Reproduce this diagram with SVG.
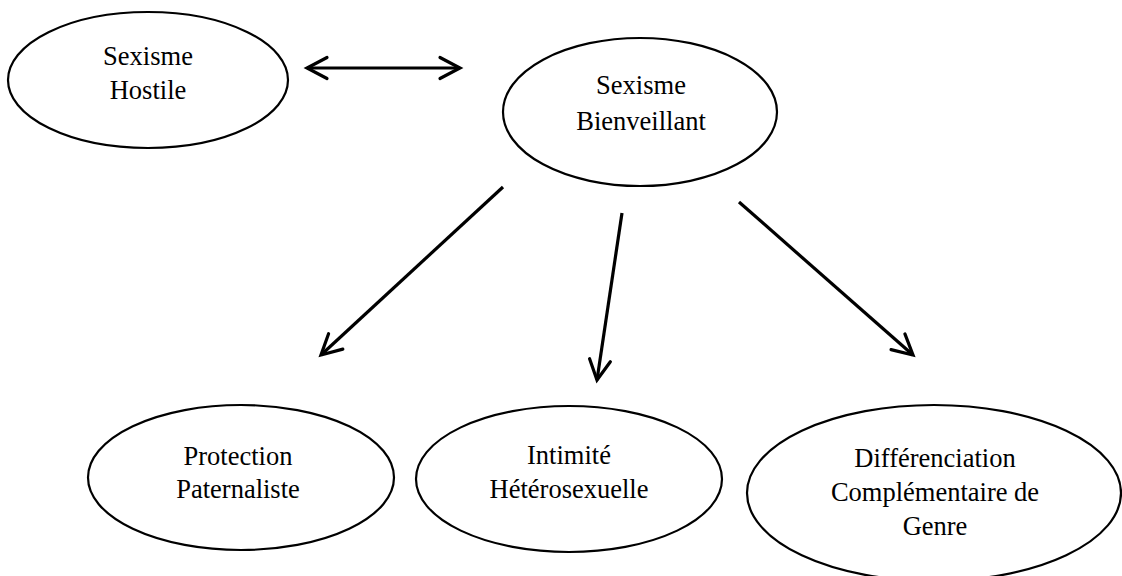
<svg xmlns="http://www.w3.org/2000/svg" width="1122" height="576" viewBox="0 0 1122 576">
<style>
.node ellipse{fill:#fff;stroke:#000;stroke-width:2.2}
.node text{font-family:"Liberation Serif","Times New Roman",serif;font-size:26.5px;fill:#000;text-anchor:middle}
.edge{stroke:#000;stroke-width:3.2;fill:none}
</style>
<defs>
<marker id="arr" markerUnits="userSpaceOnUse" viewBox="-26 -16 30 32" refX="0" refY="0" markerWidth="30" markerHeight="32" orient="auto-start-reverse">
<path d="M-20,-10.5 L0,0 L-20,10.5" fill="none" stroke="#000" stroke-width="3.2" stroke-linecap="round" stroke-linejoin="miter"/>
</marker>
</defs>
<rect width="1122" height="576" fill="#fff"/>
<g id="connectors">
<line class="edge" x1="307" y1="68" x2="460" y2="68" marker-start="url(#arr)" marker-end="url(#arr)"/>
<line class="edge" x1="503" y1="187" x2="321" y2="355" marker-end="url(#arr)"/>
<line class="edge" x1="622" y1="213" x2="597" y2="380" marker-end="url(#arr)"/>
<line class="edge" x1="739" y1="202" x2="913" y2="355" marker-end="url(#arr)"/>
</g>
<g id="hostile" class="node">
<ellipse cx="148" cy="80" rx="140" ry="68"/>
<text x="148" y="65">Sexisme</text>
<text x="148" y="99">Hostile</text>
</g>
<g id="bienveillant" class="node">
<ellipse cx="640" cy="112" rx="137" ry="74"/>
<text x="641" y="94">Sexisme</text>
<text x="641" y="130">Bienveillant</text>
</g>
<g id="protection" class="node">
<ellipse cx="241" cy="477.5" rx="153" ry="72.5"/>
<text x="238" y="465">Protection</text>
<text x="238" y="498">Paternaliste</text>
</g>
<g id="intimite" class="node">
<ellipse cx="569" cy="479" rx="153" ry="73"/>
<text x="569" y="464">Intimité</text>
<text x="569" y="498">Hétérosexuelle</text>
</g>
<g id="differenciation" class="node">
<ellipse cx="934" cy="493" rx="187" ry="88"/>
<text x="935" y="467">Différenciation</text>
<text x="935" y="501">Complémentaire de</text>
<text x="935" y="535">Genre</text>
</g>
</svg>
